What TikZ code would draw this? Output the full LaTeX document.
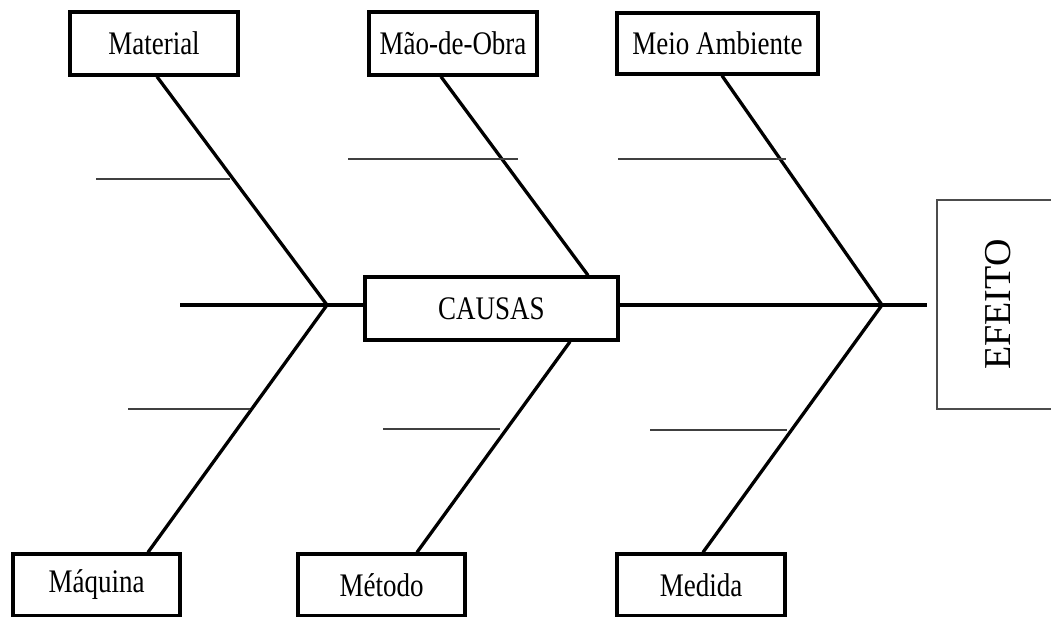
\documentclass[tikz,border=0pt]{standalone}
\usepackage{fontspec}
\setmainfont{Liberation Serif}
\usepackage{graphicx}
\begin{document}
\begin{tikzpicture}[x=1pt,y=-1pt,
  box/.style={draw=black,line width=3.4pt,inner sep=0pt,minimum height=63pt,
    font=\fontsize{27}{27}\selectfont},
  bone/.style={line width=3.3pt,black},
  rib/.style={line width=2.9pt,black!75}]
\useasboundingbox[fill=white] (0,0) rectangle (1051,617);
% boxes
\node[box,minimum width=168pt] (mat) at (154,43.5) {\scalebox{1}[1.22]{Material}};
\node[box,minimum width=168pt] (mao) at (453,43.5) {\scalebox{1}[1.22]{Mão-de-Obra}};
\node[box,minimum width=201pt,minimum height=61pt] (meio) at (717.5,43.5) {\scalebox{1}[1.22]{Meio Ambiente}};
\node[box,minimum width=167pt,minimum height=62pt] (maq) at (96.5,585) {\scalebox{1}[1.22]{Máquina}};
\node[box,minimum width=167pt,minimum height=62pt] (met) at (381.5,585) {\scalebox{1}[1.22]{Método}};
\node[box,minimum width=168pt,minimum height=62pt] (med) at (701,585) {\scalebox{1}[1.22]{Medida}};
\node[box,minimum width=253pt] (cau) at (491.5,308.5) {\scalebox{1}[1.22]{CAUSAS}};
\node[draw=black!70,line width=2.2pt,inner sep=0pt,minimum width=123pt,minimum height=209pt,
  font=\fontsize{38}{38}\selectfont] (ef) at (998.5,304.5) {\rotatebox{90}{EFEITO}};
% junctions and free ends
\coordinate (j1) at (327,305);
\coordinate (j2) at (882,305);
\coordinate (l0) at (180,305);
% spine
\draw[bone] (l0) -- (cau.west |- l0);
\draw[bone] (cau.east |- j2) -- ([xshift=-9pt]ef.west |- j2);
% bones
\draw[bone] ([xshift=3pt]mat.south) -- (j1);
\draw[bone] (j1) -- ([xshift=51.5pt]maq.north);
\draw[bone] ([xshift=-12pt]mao.south) -- ([xshift=96.5pt]cau.north);
\draw[bone] ([xshift=78.5pt]cau.south) -- ([xshift=35.5pt]met.north);
\draw[bone] ([xshift=4.5pt]meio.south) -- (j2);
\draw[bone] (j2) -- ([xshift=2pt]med.north);
% ribs
\coordinate (r1a) at (96,179);  \coordinate (r1b) at (230,179);
\coordinate (r2a) at (128,409); \coordinate (r2b) at (250,409);
\coordinate (r3a) at (348,159); \coordinate (r3b) at (518,159);
\coordinate (r4a) at (383,429); \coordinate (r4b) at (500,429);
\coordinate (r5a) at (618,159); \coordinate (r5b) at (786,159);
\coordinate (r6a) at (650,430); \coordinate (r6b) at (787,430);
\draw[rib] (r1a) -- (r1b);
\draw[rib] (r2a) -- (r2b);
\draw[rib] (r3a) -- (r3b);
\draw[rib] (r4a) -- (r4b);
\draw[rib] (r5a) -- (r5b);
\draw[rib] (r6a) -- (r6b);
\end{tikzpicture}
\end{document}
